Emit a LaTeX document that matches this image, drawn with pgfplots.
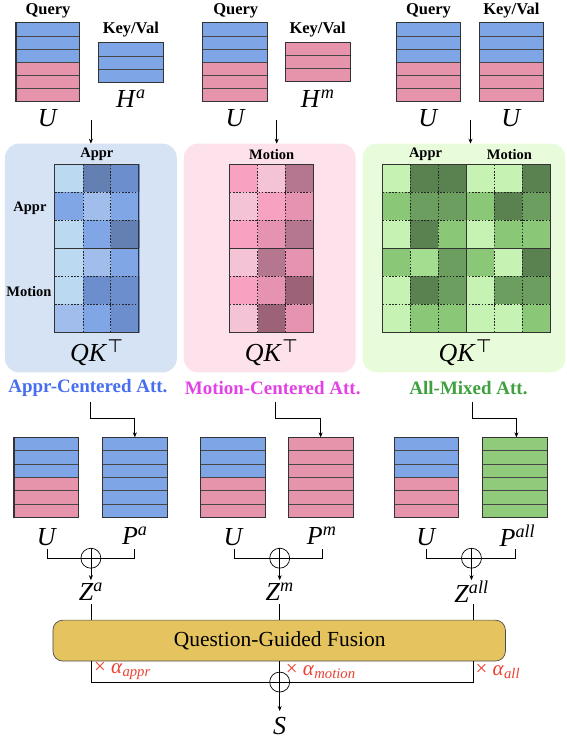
\documentclass[border=0pt]{standalone}
\usepackage{fontspec}
\setmainfont{Liberation Serif}
\newfontfamily\dejavu{DejaVu Sans}
\usepackage{pgfplots}
\pgfplotsset{compat=1.18}
\usetikzlibrary{arrows.meta}

\definecolor{cblue}{RGB}{126,166,230}
\definecolor{cpink}{RGB}{229,148,172}
\definecolor{cgreen}{RGB}{143,203,122}
\definecolor{bgblue}{RGB}{214,227,245}
\definecolor{bgpink}{RGB}{253,226,235}
\definecolor{bggreen}{RGB}{232,251,218}
\definecolor{tblue}{RGB}{72,110,240}
\definecolor{tmag}{RGB}{225,65,230}
\definecolor{tgreen}{RGB}{62,160,62}
\definecolor{gold}{RGB}{229,196,95}
\definecolor{cred}{RGB}{235,65,50}

\pgfplotsset{
  colormap={bluemap}{rgb255=(188,217,242) rgb255=(160,189,235) rgb255=(128,166,230) rgb255=(108,142,204) rgb255=(100,128,178)},
  colormap={pinkmap}{rgb255=(244,195,213) rgb255=(248,162,194) rgb255=(229,147,176) rgb255=(181,118,144) rgb255=(156,99,120)},
  colormap={greenmap}{rgb255=(198,243,179) rgb255=(163,221,143) rgb255=(138,200,120) rgb255=(108,158,96) rgb255=(90,129,80)},
}

\tikzset{
  bord/.style={draw=black!80, line width=1.1pt},
  sep/.style={draw=black!72, line width=0.65pt},
  grid/.style={draw=black!85, line width=0.8pt, dash pattern=on 1.6pt off 1.6pt},
  arr/.style={-{Stealth[length=5pt,width=4pt]}, line width=0.7pt},
  wire/.style={line width=0.7pt},
  lbl/.style={font=\fontsize{16.5}{18}\selectfont\bfseries},
  hm/.style={font=\fontsize{14.5}{16}\selectfont\bfseries},
  mth/.style={font=\fontsize{26}{28}\selectfont},
  ttl/.style={font=\fontsize{19}{21}\selectfont\bfseries},
  alf/.style={anchor=west, inner sep=0pt, text=cred, font=\fontsize{21}{23}\selectfont},
}

% variable with superscript
\newcommand{\mv}[2]{\textit{#1}\textsuperscript{\textit{#2}}}
\newcommand{\qk}{\textit{QK}\textsuperscript{\dejavu ⊤}}

% separators for 6 rows
\newcommand{\sixrows}[4]{%
  \draw[sep] (#1,{#3+(#4-#3)/6}) -- (#2,{#3+(#4-#3)/6});
  \draw[sep] (#1,{#3+2*(#4-#3)/6}) -- (#2,{#3+2*(#4-#3)/6});
  \draw[sep] (#1,{#3+3*(#4-#3)/6}) -- (#2,{#3+3*(#4-#3)/6});
  \draw[sep] (#1,{#3+4*(#4-#3)/6}) -- (#2,{#3+4*(#4-#3)/6});
  \draw[sep] (#1,{#3+5*(#4-#3)/6}) -- (#2,{#3+5*(#4-#3)/6});}
% U block: half blue, half pink
\newcommand{\blockU}[4]{%
  \fill[cblue] (#1,#3) rectangle (#2,{(#3+#4)/2});
  \fill[cpink] (#1,{(#3+#4)/2}) rectangle (#2,#4);
  \sixrows{#1}{#2}{#3}{#4}
  \draw[bord] (#1,#3) rectangle (#2,#4);}
% single colour, 6 rows
\newcommand{\blockP}[5]{%
  \fill[#5] (#1,#3) rectangle (#2,#4);
  \sixrows{#1}{#2}{#3}{#4}
  \draw[bord] (#1,#3) rectangle (#2,#4);}
% single colour, 3 rows
\newcommand{\blockH}[5]{%
  \fill[#5] (#1,#3) rectangle (#2,#4);
  \draw[sep] (#1,{#3+(#4-#3)/3}) -- (#2,{#3+(#4-#3)/3});
  \draw[sep] (#1,{#3+2*(#4-#3)/3}) -- (#2,{#3+2*(#4-#3)/3});
  \draw[bord] (#1,#3) rectangle (#2,#4);}
\newcommand{\oplusat}[2]{%
  \draw[wire, fill=white] (#1,#2) circle[radius=10];
  \draw[wire] ({#1-10},#2) -- ({#1+10},#2);
  \draw[wire] (#1,{#2-10}) -- (#1,{#2+10});}

\begin{document}
\begin{tikzpicture}
\begin{axis}[
  width=567pt, height=740pt, scale only axis,
  xmin=0, xmax=567, ymin=0, ymax=740, y dir=reverse,
  hide axis, clip=false,
]
\path (0,0) rectangle (567,740);

% ---------------- top row ----------------
\node[lbl] at (48,10) {Query};
\node[lbl] at (236,10) {Query};
\node[lbl] at (429,10) {Query};
\node[lbl] at (131,29) {Key/Val};
\node[lbl] at (318,29) {Key/Val};
\node[lbl] at (512,10) {Key/Val};

\blockU{16}{80}{22}{101}
\blockH{99}{164}{42}{82}{cblue}
\blockU{203}{268}{22}{101}
\blockH{286}{351}{42}{81}{cpink}
\blockU{397}{461}{22}{101}
\blockU{480}{544}{22}{101}

\node[mth] at (48,117) {\textit{U}};
\node[mth] at (131,98) {\mv{H}{a}};
\node[mth] at (236,117) {\textit{U}};
\node[mth] at (318,98) {\mv{H}{m}};
\node[mth] at (429,117) {\textit{U}};
\node[mth] at (512,117) {\textit{U}};

\draw[arr] (91,119) -- (91,143);
\draw[arr] (277,119) -- (277,143);
\draw[arr] (471,119) -- (471,143);

% ---------------- attention panels ----------------
\fill[bgblue, rounded corners=14pt] (5,143) rectangle (177,372);
\fill[bgpink, rounded corners=14pt] (184,143) rectangle (356,372);
\fill[bggreen, rounded corners=14pt] (363,143) rectangle (566,372);

% Appr-centered attention scores
\addplot[matrix plot*, mesh/cols=3, point meta=explicit, colormap name=bluemap, colormap access=direct, draw=none]
  table[meta=c] {
x y c
69 178 0
97 178 4
125 178 3
69 206 2
97 206 1
125 206 2
69 234 0
97 234 2
125 234 4
69 262 0
97 262 1
125 262 2
69 290 0
97 290 3
125 290 3
69 318 1
97 318 2
125 318 3
};
% Motion-centered attention scores
\addplot[matrix plot*, mesh/cols=3, point meta=explicit, colormap name=pinkmap, colormap access=direct, draw=none]
  table[meta=c] {
x y c
244 178 1
272 178 0
300 178 3
244 206 0
272 206 1
300 206 2
244 234 1
272 234 2
300 234 3
244 262 0
272 262 3
300 262 2
244 290 1
272 290 2
300 290 4
244 318 0
272 318 4
300 318 2
};
% All-mixed attention scores
\addplot[matrix plot*, mesh/cols=6, point meta=explicit, colormap name=greenmap, colormap access=direct, draw=none]
  table[meta=c] {
x y c
397 178 0
425 178 4
453 178 4
481 178 0
509 178 0
537 178 4
397 206 2
425 206 3
453 206 3
481 206 2
509 206 4
537 206 3
397 234 0
425 234 4
453 234 2
481 234 0
509 234 2
537 234 2
397 262 2
425 262 1
453 262 3
481 262 2
509 262 0
537 262 4
397 290 0
425 290 4
453 290 3
481 290 0
509 290 3
537 290 3
397 318 0
425 318 2
453 318 2
481 318 0
509 318 0
537 318 2
};

% grids
\draw[grid] (83,164) -- (83,332);
\draw[grid] (111,164) -- (111,332);
\draw[grid] (55,192) -- (139,192);
\draw[grid] (55,220) -- (139,220);
\draw[grid] (55,276) -- (139,276);
\draw[grid] (55,304) -- (139,304);
\draw[bord] (55,248) -- (139,248);
\draw[bord] (55,164) rectangle (139,332);

\draw[grid] (258,164) -- (258,332);
\draw[grid] (286,164) -- (286,332);
\draw[grid] (230,192) -- (314,192);
\draw[grid] (230,220) -- (314,220);
\draw[grid] (230,276) -- (314,276);
\draw[grid] (230,304) -- (314,304);
\draw[bord] (230,248) -- (314,248);
\draw[bord] (230,164) rectangle (314,332);

\draw[grid] (411,164) -- (411,332);
\draw[grid] (439,164) -- (439,332);
\draw[grid] (495,164) -- (495,332);
\draw[grid] (523,164) -- (523,332);
\draw[grid] (383,192) -- (551,192);
\draw[grid] (383,220) -- (551,220);
\draw[grid] (383,276) -- (551,276);
\draw[grid] (383,304) -- (551,304);
\draw[bord] (383,248) -- (551,248);
\draw[bord] (467,164) -- (467,332);
\draw[bord] (383,164) rectangle (551,332);

\node[hm] at (97,154) {Appr};
\node[hm] at (30,208) {Appr};
\node[hm] at (29,291) {Motion};
\node[hm] at (272,154) {Motion};
\node[hm] at (426,154) {Appr};
\node[hm] at (510,154) {Motion};

\node[mth] at (97,352) {\qk};
\node[mth] at (272,352) {\qk};
\node[mth] at (466,352) {\qk};

\node[ttl, text=tblue] at (88,388) {Appr-Centered Att.};
\node[ttl, text=tmag] at (273,388) {Motion-Centered Att.};
\node[ttl, text=tgreen] at (469,388) {All-Mixed Att.};

% ---------------- outputs ----------------
\draw[wire] (90,402) -- (90,418) -- (135,418);
\draw[arr] (135,418) -- (135,437);
\draw[wire] (276,402) -- (276,418) -- (321,418);
\draw[arr] (321,418) -- (321,437);
\draw[wire] (473,402) -- (473,418) -- (517,418);
\draw[arr] (517,418) -- (517,437);

\blockU{14}{79}{437}{517}
\blockP{103}{168}{437}{517}{cblue}
\blockU{201}{266}{437}{517}
\blockP{289}{354}{437}{517}{cpink}
\blockU{395}{459}{437}{517}
\blockP{483}{548}{437}{517}{cgreen}

\node[mth] at (47,537) {\textit{U}};
\node[mth] at (135,535) {\mv{P}{a}};
\node[mth] at (234,537) {\textit{U}};
\node[mth] at (322,535) {\mv{P}{m}};
\node[mth] at (427,537) {\textit{U}};
\node[mth] at (518,535) {\mv{P}{all}};

\draw[wire] (47,549) -- (47,558) -- (135,558) -- (135,549);
\oplusat{91}{558}
\draw[arr] (91,568) -- (91,580);
\draw[wire] (235,549) -- (235,558) -- (323,558) -- (323,549);
\oplusat{280}{558}
\draw[arr] (280,568) -- (280,580);
\draw[wire] (427,549) -- (427,558) -- (516,558) -- (516,549);
\oplusat{472}{558}
\draw[arr] (472,568) -- (472,580);

\node[mth] at (91,592) {\mv{Z}{a}};
\node[mth] at (280,592) {\mv{Z}{m}};
\node[mth] at (472,592) {\mv{Z}{all}};

\draw[wire] (91,604) -- (91,620);
\draw[wire] (280,604) -- (280,620);
\draw[wire] (474,604) -- (474,620);

% ---------------- fusion ----------------
\draw[wire, draw=black!70, fill=gold, rounded corners=10pt] (53,620) rectangle (506,661);
\node[font=\fontsize{21.5}{24}\selectfont] at (280,641) {Question-Guided Fusion};

\draw[wire] (91,661) -- (91,682) -- (474,682) -- (474,661);
\draw[wire] (280,661) -- (280,672);
\oplusat{280}{682}
\draw[arr] (280,692) -- (280,711);
\node[mth] at (280,726) {\textit{S}};

\node[alf] at (94,671) {× \textit{α}\textsubscript{\textit{appr}}};
\node[alf] at (286,671) {× \textit{α}\textsubscript{\textit{motion}}};
\node[alf] at (476,671) {× \textit{α}\textsubscript{\textit{all}}};
\end{axis}
\end{tikzpicture}
\end{document}
